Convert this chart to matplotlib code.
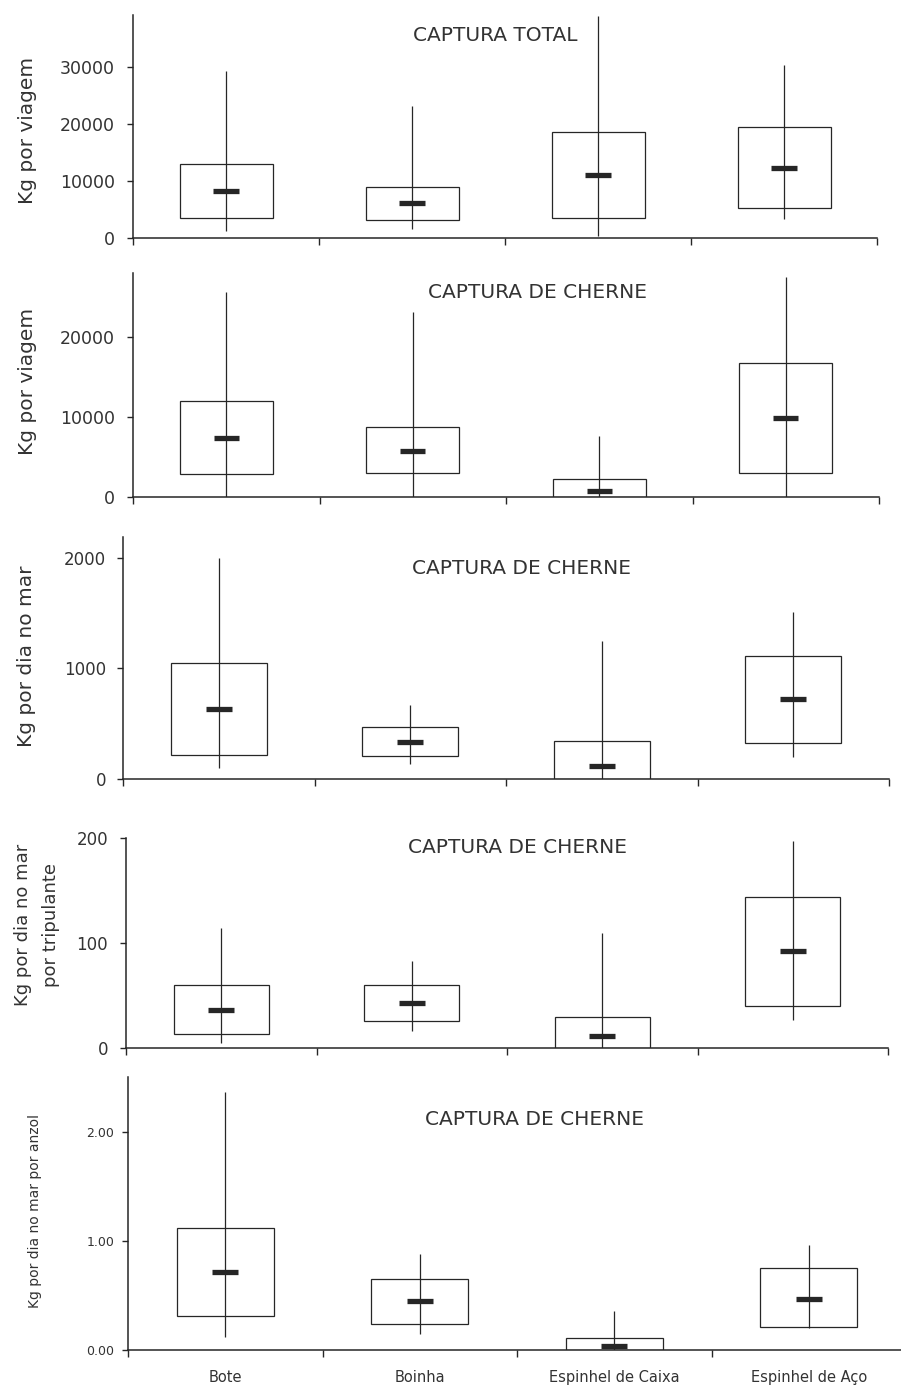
import matplotlib
matplotlib.use("Agg")
import matplotlib.pyplot as plt

plt.rcParams['font.family'] = ['DejaVu Sans']

W, H = 901, 1385
LINE = '#262626'
TEXT = '#333333'

categorias = ['Bote', 'Boinha', 'Espinhel de Caixa', 'Espinhel de Aço']

# captura total, kg por viagem
tot_max = [29300, 23200, 39000, 30300]
tot_q3 = [13000, 8900, 18600, 19500]
tot_med = [8200, 6100, 11000, 12300]
tot_q1 = [3500, 3200, 3500, 5300]
tot_min = [1200, 1600, 300, 3300]

# cherne, kg por viagem
via_max = [25600, 23100, 7600, 27500]
via_q3 = [12000, 8750, 2250, 16750]
via_med = [7400, 5750, 750, 9900]
via_q1 = [2900, 3000, 0, 3000]
via_min = [0, 0, 0, 0]

# cherne, kg por dia no mar
dia_max = [2000, 670, 1250, 1510]
dia_q3 = [1050, 470, 344, 1113]
dia_med = [633, 335, 118, 724]
dia_q1 = [217, 208, 0, 326]
dia_min = [100, 136, 0, 200]

# cherne, kg por dia no mar por tripulante
tri_max = [114, 83, 110, 197]
tri_q3 = [60, 60, 30, 144]
tri_med = [36, 43, 11, 92]
tri_q1 = [13, 26, 0, 40]
tri_min = [5, 16, 0, 27]

# cherne, kg por dia no mar por anzol
anz_max = [2.36, 0.88, 0.36, 0.96]
anz_q3 = [1.12, 0.65, 0.11, 0.75]
anz_med = [0.71, 0.45, 0.04, 0.47]
anz_q1 = [0.31, 0.24, 0.0, 0.21]
anz_min = [0.12, 0.15, 0.0, 0.20]


def frac(x, y):
    return x / W, 1 - y / H


def ax_rect(left, right, top, bottom):
    return [left / W, 1 - bottom / H, (right - left) / W, (bottom - top) / H]


fig = plt.figure(figsize=(W / 100, H / 100), dpi=100)
fig.patch.set_facecolor('white')

paineis = [
    dict(rect=ax_rect(133, 877, 15, 238), ylim=39100, yt=[0, 10000, 20000, 30000],
         ytl=['0', '10000', '20000', '30000'], tsize=12.5, tpad=9,
         data=(tot_min, tot_q1, tot_med, tot_q3, tot_max),
         title='CAPTURA TOTAL', tpos=(0.487, 0.91),
         ylab='Kg por viagem', lpos=(28, 130), lsize=14.5),
    dict(rect=ax_rect(133, 879, 273, 497), ylim=28000, yt=[0, 10000, 20000],
         ytl=['0', '10000', '20000'], tsize=12.5, tpad=9,
         data=(via_min, via_q1, via_med, via_q3, via_max),
         title='CAPTURA DE CHERNE', tpos=(0.542, 0.915),
         ylab='Kg por viagem', lpos=(28, 381), lsize=14.5),
    dict(rect=ax_rect(123, 889, 537, 779), ylim=2190, yt=[0, 1000, 2000],
         ytl=['0', '1000', '2000'], tsize=12, tpad=8,
         data=(dia_min, dia_q1, dia_med, dia_q3, dia_max),
         title='CAPTURA DE CHERNE', tpos=(0.52, 0.868),
         ylab='Kg por dia no mar', lpos=(27, 656), lsize=14.5),
    dict(rect=ax_rect(126, 888, 838, 1048), ylim=200, yt=[0, 100, 200],
         ytl=['0', '100', '200'], tsize=12, tpad=9,
         data=(tri_min, tri_q1, tri_med, tri_q3, tri_max),
         title='CAPTURA DE CHERNE', tpos=(0.514, 0.957),
         ylab='Kg por dia no mar\npor tripulante', lpos=(37, 925), lsize=13),
    dict(rect=ax_rect(128, 906, 1077, 1350), ylim=2.5, yt=[0, 1, 2],
         ytl=['0.00', '1.00', '2.00'], tsize=9, tpad=6,
         data=(anz_min, anz_q1, anz_med, anz_q3, anz_max),
         title='CAPTURA DE CHERNE', tpos=(0.523, 0.846),
         ylab='Kg por dia no mar por anzol', lpos=(35, 1211), lsize=10),
]

pos = list(range(1, len(categorias) + 1))

for i, p in enumerate(paineis):
    ax = fig.add_axes(p['rect'])
    mn, q1, med, q3, mx = p['data']

    # caixa q1-q3, linha min-max e traço grosso da mediana
    ax.bar(pos, [b - a for a, b in zip(q1, q3)], bottom=q1, width=0.5,
           fill=False, edgecolor=LINE, linewidth=0.9, zorder=2)
    ax.vlines(pos, mn, mx, color=LINE, linewidth=0.9, zorder=3)
    ax.hlines(med, [x - 0.068 for x in pos], [x + 0.068 for x in pos],
              color=LINE, linewidth=3.8, zorder=4)

    ax.set_xlim(0.5, 4.5)
    ax.set_ylim(0, p['ylim'])
    ax.set_yticks(p['yt'])
    ax.set_yticklabels(p['ytl'])
    ax.set_xticks([0.5, 1.5, 2.5, 3.5, 4.5])
    ax.tick_params(axis='x', length=5, width=1, color=LINE, labelbottom=False)
    ax.tick_params(axis='y', length=4, width=1, color=LINE, pad=p['tpad'],
                   labelsize=p['tsize'], labelcolor=TEXT)

    for s in ['top', 'right']:
        ax.spines[s].set_visible(False)
    for s in ['left', 'bottom']:
        ax.spines[s].set_color(LINE)
        ax.spines[s].set_linewidth(1.1)

    ax.text(p['tpos'][0], p['tpos'][1], p['title'], transform=ax.transAxes,
            ha='center', va='center', fontsize=14.5, color=TEXT)

    lx, ly = frac(*p['lpos'])
    fig.text(lx, ly, p['ylab'], rotation=90, ha='center', va='center',
             fontsize=p['lsize'], color=TEXT, linespacing=1.75)

    if i == len(paineis) - 1:
        for x, nome in zip(pos, categorias):
            ax.text(x, -0.1, nome, transform=ax.get_xaxis_transform(),
                    ha='center', va='center', fontsize=10.5, color=TEXT)

fig.savefig('out.png', dpi=100, facecolor='white')
